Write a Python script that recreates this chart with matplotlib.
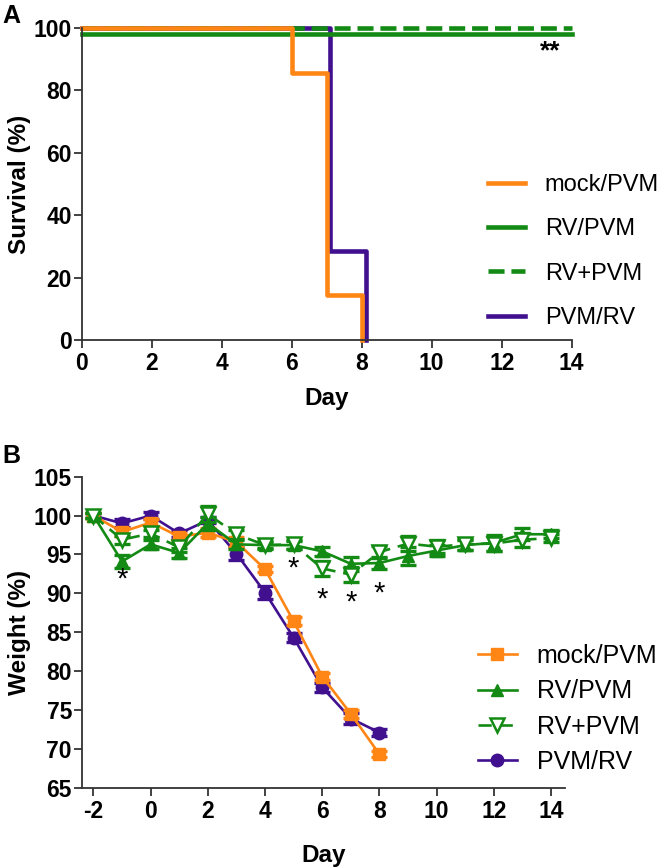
import matplotlib
matplotlib.use('Agg')
import matplotlib.pyplot as plt
import numpy as np

plt.rcParams['axes.unicode_minus'] = False

# colours
orange = '#FF8515'
green = '#138A13'
purple = '#40108F'

tick_font = ['Liberation Sans Narrow', 'Liberation Sans', 'DejaVu Sans']
label_font = ['Liberation Sans', 'DejaVu Sans']

# ---- panel A: survival (%) ----
mock_days = [0, 6, 7, 8]
mock_surv = [100, 85.7, 14.3, 0]
pvmrv_days = [0, 7.08, 8.12]
pvmrv_surv = [100, 28.6, 0]
rvpvm_days = [0, 14]
rvpvm_surv = [98.2, 98.2]
rvplus_days = [0, 14]
rvplus_surv = [100, 100]

# ---- panel B: weight (%) ----
days_short = [-2, -1, 0, 1, 2, 3, 4, 5, 6, 7, 8]
days_long = [-2, -1, 0, 1, 2, 3, 4, 5, 6, 7, 8, 9, 10, 11, 12, 13, 14]
mock_w = [100, 97.9, 99.1, 97.3, 97.8, 96.6, 93.1, 86.4, 79.3, 74.5, 69.3]
mock_e = [0.3, 0.5, 0.5, 0.4, 0.6, 0.6, 0.4, 0.5, 0.5, 0.5, 0.4]
pvmrv_w = [100, 99.0, 100.0, 97.7, 99.4, 95.1, 90.1, 84.3, 77.9, 73.9, 72.1]
pvmrv_e = [0.3, 0.5, 0.5, 0.4, 0.4, 0.8, 0.8, 0.6, 0.6, 0.7, 0.4]
rvpvm_w = [100, 94.1, 96.3, 95.2, 99.0, 96.3, 96.2, 96.2, 95.4, 93.8, 93.9,
           94.8, 95.5, 96.2, 96.5, 97.6, 97.6]
rvpvm_e = [0.3, 0.8, 0.6, 0.6, 0.8, 0.6, 0.4, 0.5, 0.6, 0.9, 0.8,
           1.2, 0.7, 0.6, 1.0, 0.8, 0.5]
rvplus_w = [100, 96.9, 97.7, 95.9, 100.2, 97.6, 96.2, 96.3, 93.2, 92.4, 95.3,
            96.4, 96.0, 96.3, 96.4, 96.9, 97.1]
rvplus_e = [0.3, 0.5, 0.5, 0.6, 1.0, 0.6, 0.5, 0.6, 1.0, 1.0, 0.8,
            1.0, 0.8, 0.7, 1.0, 0.9, 0.5]
star_days = [-1, 5, 6, 7, 8]
star_y = [91.8, 93.2, 89.2, 88.8, 90.0]

labels = ['mock/PVM', 'RV/PVM', 'RV+PVM', 'PVM/RV']

fig = plt.figure(figsize=(6.66, 8.68), dpi=100)


def style_axes(ax):
    for s in ['top', 'right']:
        ax.spines[s].set_visible(False)
    for s in ['left', 'bottom']:
        ax.spines[s].set_linewidth(1.3)
        ax.spines[s].set_color('#333333')
    ax.tick_params(axis='both', length=6, width=1.3, color='#333333')
    ax.tick_params(axis='y', pad=1)
    ax.tick_params(axis='x', pad=3)
    for t in ax.get_xticklabels() + ax.get_yticklabels():
        t.set_family(tick_font)
        t.set_fontweight('bold')
        t.set_fontsize(16.5)


# panel A
axA = fig.add_axes([0.1227, 0.6083, 0.7357, 0.3594])
lwA = 3.3
axA.step(pvmrv_days, pvmrv_surv, where='post', color=purple, lw=lwA, clip_on=False, label=labels[3])
axA.plot(rvplus_days, rvplus_surv, color=green, lw=lwA, dashes=(3.5, 1.5), clip_on=False, label=labels[2])
axA.plot(rvpvm_days, rvpvm_surv, color=green, lw=lwA, clip_on=False, label=labels[1])
axA.step(mock_days, mock_surv, where='post', color=orange, lw=lwA, clip_on=False, label=labels[0])
axA.set_xlim(0, 14)
axA.set_ylim(0, 100)
axA.set_xticks(range(0, 15, 2))
axA.set_yticks(range(0, 101, 20))
style_axes(axA)
axA.set_ylabel('Survival (%)', family=label_font, fontweight='bold', fontsize=17.5)
axA.set_xlabel('Day', family=label_font, fontweight='bold', fontsize=17.5)
axA.yaxis.set_label_coords(-0.103, 0.5)
axA.xaxis.set_label_coords(0.5, -0.15)
axA.text(13.4, 92.5, '**', ha='center', va='center', fontsize=19, fontweight='bold',
         family=label_font)
h, l = axA.get_legend_handles_labels()
order = [l.index(x) for x in labels]
fig.legend([h[i] for i in order], [l[i] for i in order], loc='center left',
           bbox_to_anchor=(0.733, 0.7103), frameon=False, borderpad=0, borderaxespad=0,
           handlelength=1.55, handletextpad=0.85, labelspacing=0.95,
           prop={'family': label_font, 'size': 17})
fig.text(0.004, 0.995, 'A', fontsize=18, fontweight='bold', family=label_font, va='top')

# panel B
axB = fig.add_axes([0.1227, 0.0925, 0.7257, 0.3583])
lwB = 1.9
ms = 9
series = [
    (days_short, pvmrv_w, pvmrv_e, purple, 'o', purple, '-', labels[3]),
    (days_short, mock_w, mock_e, orange, 's', orange, '-', labels[0]),
    (days_long, rvpvm_w, rvpvm_e, green, '^', green, '-', labels[1]),
    (days_long, rvplus_w, rvplus_e, green, 'v', 'white', '--', labels[2]),
]
for x, y, e, c, m, fc, ls, lab in series:
    axB.errorbar(x, y, yerr=e, fmt='none', ecolor=c, elinewidth=2, capsize=6,
                 capthick=2.4, clip_on=False)
    if ls == '--':
        axB.plot(x, y, color=c, lw=lwB, dashes=(5, 3), marker=m, ms=ms + 1,
                 mfc=fc, mec=c, mew=1.8, label=lab, clip_on=False)
    else:
        axB.plot(x, y, color=c, lw=lwB, marker=m, ms=ms, mfc=fc, mec=c,
                 label=lab, clip_on=False)
for d, yy in zip(star_days, star_y):
    axB.text(d, yy, '*', ha='center', va='center', fontsize=21, family=label_font)
axB.set_xlim(-2.41, 14.49)
axB.set_ylim(65, 105)
axB.set_xticks(range(-2, 15, 2))
axB.set_yticks(range(65, 106, 5))
style_axes(axB)
axB.set_ylabel('Weight (%)', family=label_font, fontweight='bold', fontsize=17.5)
axB.set_xlabel('Day', family=label_font, fontweight='bold', fontsize=17.5)
axB.yaxis.set_label_coords(-0.104, 0.5)
axB.xaxis.set_label_coords(0.5, -0.18)
h, l = axB.get_legend_handles_labels()
order = [l.index(x) for x in labels]
fig.legend([h[i] for i in order], [l[i] for i in order], loc='center left',
           bbox_to_anchor=(0.7177, 0.1833), frameon=False, borderpad=0, borderaxespad=0,
           handlelength=1.55, handletextpad=0.8, labelspacing=0.45,
           prop={'family': label_font, 'size': 18})
fig.text(0.004, 0.488, 'B', fontsize=18, fontweight='bold', family=label_font, va='top')

fig.savefig('out.png', dpi=100)
